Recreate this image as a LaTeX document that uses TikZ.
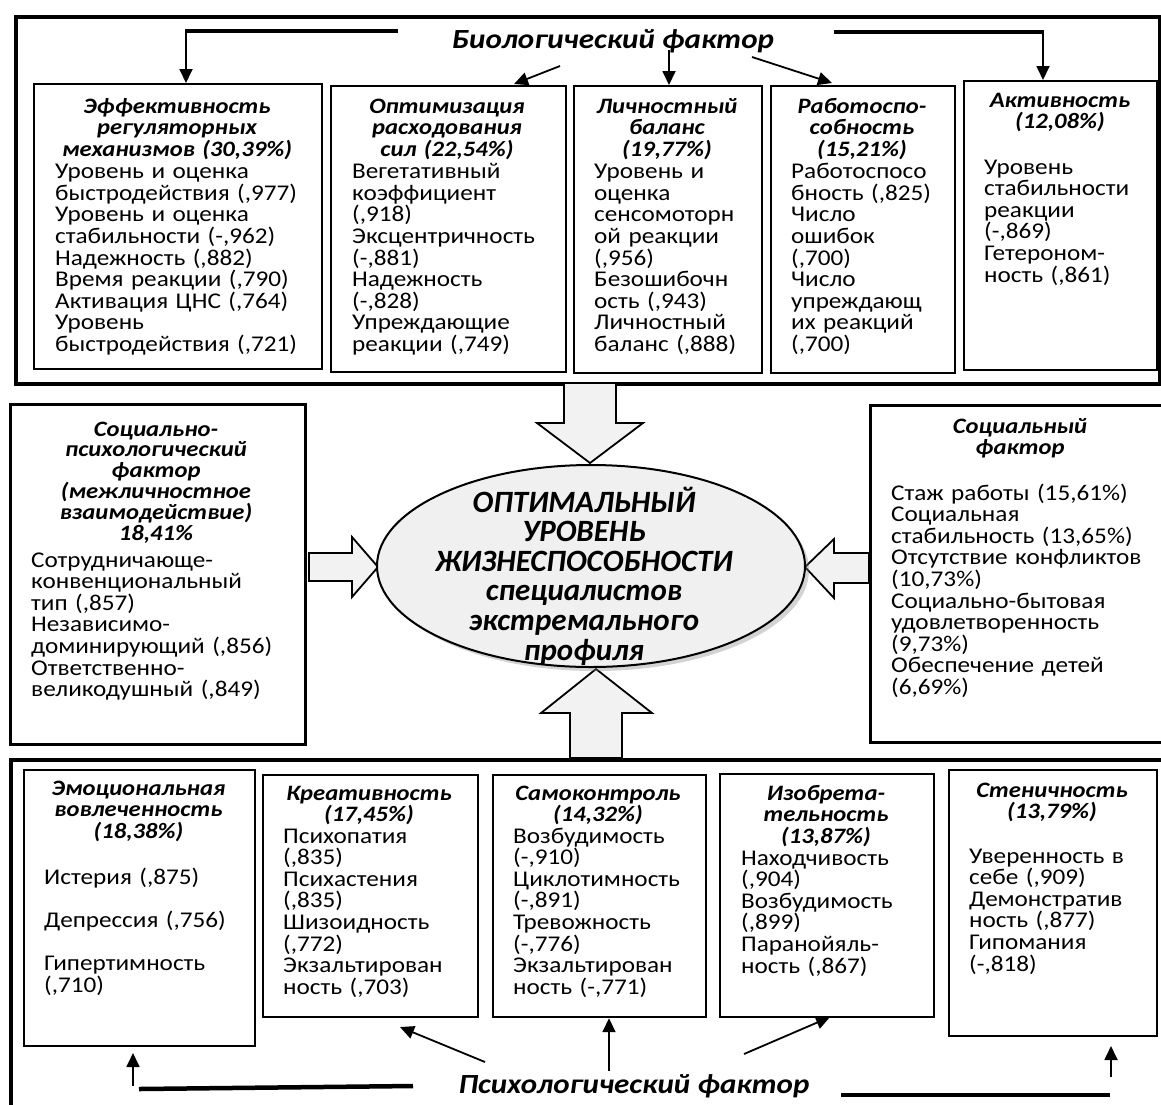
\documentclass[tikz,border=0pt]{standalone}
\usepackage{fontspec}
\setmainfont{Carlito}[FakeStretch=1.12]
\newfontfamily\ellfam{Carlito}
\usetikzlibrary{arrows.meta,shadows,shapes.geometric,calc}
\newcommand\bodyfont{\fontsize{22.5}{21.6}\selectfont}
\newcommand\hdfont{\fontsize{22}{21.6}\selectfont\bfseries\itshape}
\newcommand\hdtightfont{\fontsize{22}{20.8}\selectfont\bfseries\itshape}
\newcommand\bigttlfont{\fontsize{27.7}{30}\selectfont\bfseries\itshape}
\newcommand\ellfont{\ellfam\fontsize{31}{29.6}\selectfont\bfseries\itshape}
\tikzset{
  frame/.style={draw, line width=3.8pt, inner sep=0pt, anchor=north west},
  midbox/.style={draw, line width=3pt, inner sep=0pt, anchor=north west},
  box/.style={draw, line width=2.2pt, inner sep=0pt, anchor=north west},
  ttl/.style={anchor=base, align=center, text width=300pt, inner sep=0pt, font=\hdfont},
  bod/.style={anchor=base west, align=left, text width=330pt, inner sep=0pt, font=\bodyfont},
  conn/.style={line width=1.8pt, -{Triangle[length=14pt,width=13pt]}},
  bar/.style={line width=4.5pt},
  blk/.style={draw, line width=1.8pt, fill=gray!10, line join=miter},
}
\begin{document}
\begin{tikzpicture}[x=1pt,y=-1pt]
\useasboundingbox (0,0) rectangle (1161,1104);
% ---------- top frame ----------
\node[frame, minimum width=1144pt, minimum height=367pt] (topf) at (14,15) {};
\node[anchor=base, inner sep=0pt, font=\bigttlfont] (bio) at (613,48) {Биологический фактор};
% top boxes
\node[box, minimum width=288pt, minimum height=285pt] (b1) at (33,83) {};
\node[box, minimum width=235pt, minimum height=286pt] (b2) at (330,85) {};
\node[box, minimum width=188pt, minimum height=287pt] (b3) at (573,85) {};
\node[box, minimum width=184pt, minimum height=287pt] (b4) at (770,85) {};
\node[box, minimum width=193pt, minimum height=289pt] (b5) at (963,80) {};
% texts
\node[ttl] (b1h) at (177,113) {Эффективность\\регуляторных\\механизмов (30,39\%)};
\node[bod] (b1b) at (55,178.6) {Уровень и оценка\\быстродействия (,977)\\Уровень и оценка\\стабильности (-,962)\\Надежность (,882)\\Время реакции (,790)\\Активация ЦНС (,764)\\Уровень\\быстродействия (,721)};
\node[ttl] (b2h) at (447,113) {Оптимизация\\расходования\\сил (22,54\%)};
\node[bod] (b2b) at (352,178.6) {Вегетативный\\коэффициент\\(,918)\\Эксцентричность\\(-,881)\\Надежность\\(-,828)\\Упреждающие\\реакции (,749)};
\node[ttl] (b3h) at (667,113) {Личностный\\баланс\\(19,77\%)};
\node[bod] (b3b) at (594,178.6) {Уровень и\\оценка\\сенсомоторн\\ой реакции\\(,956)\\Безошибочн\\ость (,943)\\Личностный\\баланс (,888)};
\node[ttl] (b4h) at (862,113) {Работоспо-\\собность\\(15,21\%)};
\node[bod] (b4b) at (791,178.6) {Работоспосо\\бность (,825)\\Число\\ошибок\\(,700)\\Число\\упреждающ\\их реакций\\(,700)};
\node[ttl] (b5h) at (1060,107) {Активность\\(12,08\%)};
\node[bod] (b5b) at (984,174) {Уровень\\стабильности\\реакции\\(-,869)\\Гетероном-\\ность (,861)};
% top connectors
\coordinate (s1) at (398,31);
\coordinate (k1) at (186,31);
\draw[bar] (s1) -- ([xshift=-1pt]k1);
\draw[conn] (k1) -- (k1 |- b1.north);
\coordinate (s2) at (560,66);
\draw[conn] (s2) -- (514,84) coordinate (e2);
\coordinate (s3) at (669,50);
\draw[conn] (s3) -- (s3 |- b3.north);
\coordinate (s4) at (752,57);
\draw[conn] (s4) -- (832,83) coordinate (e4);
\coordinate (s5) at (834,32);
\coordinate (k5) at (1043,32);
\draw[bar] (s5) -- ([xshift=1pt]k5);
\draw[conn] (k5) -- (k5 |- b5.north);
% ---------- middle ----------
\node[midbox, minimum width=295pt, minimum height=340pt] (lb) at (9,403) {};
\node[ttl, font=\hdtightfont] (lbh) at (156,436) {Социально-\\психологический\\фактор\\(межличностное\\взаимодействие)\\18,41\%};
\node[bod] (lbb) at (31,567) {Сотрудничающе-\\конвенциональный\\тип (,857)\\Независимо-\\доминирующий (,856)\\Ответственно-\\великодушный (,849)};
\node[midbox, minimum width=310pt, minimum height=337pt] (rb) at (869,404) {};
\node[ttl] (rbh) at (1020,433) {Социальный\\фактор};
\node[bod] (rbb) at (891,500) {Стаж работы (15,61\%)\\Социальная\\стабильность (13,65\%)\\Отсутствие конфликтов\\(10,73\%)\\Социально-бытовая\\удовлетворенность\\(9,73\%)\\Обеспечение детей\\(6,69\%)};
% block arrows
\draw[blk] (564,383) -- (616,383) -- (616,423) -- (643,423) -- (590,463) -- (537,423) -- (564,423) -- cycle;
\draw[blk] (309,553) -- (352,553) -- (352,537) -- (378,567) -- (352,597) -- (352,581) -- (309,581) -- cycle;
\draw[blk] (869,553) -- (834,553) -- (834,539) -- (805,567) -- (834,598) -- (834,583) -- (869,583) -- cycle;
\draw[blk] (570,758) -- (570,713) -- (541,713) -- (596,669) -- (652,713) -- (622,713) -- (622,758) -- cycle;
% ellipse
\node[ellipse, draw, line width=2pt, fill=gray!12, minimum width=428pt, minimum height=202pt, inner sep=0pt,
      drop shadow={shadow xshift=4pt, shadow yshift=-4pt, opacity=0.35}] (ell) at (591,566) {};
\node[anchor=base, align=center, text width=420pt, inner sep=0pt, font=\ellfont] (ellt) at (584,512)
  {ОПТИМАЛЬНЫЙ\\УРОВЕНЬ\\ЖИЗНЕСПОСОБНОСТИ\\специалистов\\экстремального\\профиля};
% ---------- bottom frame ----------
\node[frame, minimum width=1170pt, minimum height=360pt] (botf) at (9,758) {};
\node[box, minimum width=231pt, minimum height=276pt] (p1) at (23,769) {};
\node[box, minimum width=215pt, minimum height=242pt] (p2) at (262,774) {};
\node[box, minimum width=213pt, minimum height=242pt] (p3) at (492,774) {};
\node[box, minimum width=214pt, minimum height=243pt] (p4) at (719,773) {};
\node[box, minimum width=208pt, minimum height=266pt] (p5) at (948,769) {};
\node[ttl] (p1h) at (138.5,795) {Эмоциональная\\вовлеченность\\(18,38\%)};
\node[bod] (p1b) at (44,884) {Истерия (,875)\\[21.6pt]Депрессия (,756)\\[21.6pt]Гипертимность\\(,710)};
\node[ttl] (p2h) at (369,800) {Креативность\\(17,45\%)};
\node[bod] (p2b) at (283,843) {Психопатия\\(,835)\\Психастения\\(,835)\\Шизоидность\\(,772)\\Экзальтирован\\ность (,703)};
\node[ttl] (p3h) at (598,800) {Самоконтроль\\(14,32\%)};
\node[bod] (p3b) at (513,843) {Возбудимость\\(-,910)\\Циклотимность\\(-,891)\\Тревожность\\(-,776)\\Экзальтирован\\ность (-,771)};
\node[ttl] (p4h) at (826,800) {Изобрета-\\тельность\\(13,87\%)};
\node[bod] (p4b) at (741,865) {Находчивость\\(,904)\\Возбудимость\\(,899)\\Паранойяль-\\ность (,867)};
\node[ttl] (p5h) at (1052,797) {Стеничность\\(13,79\%)};
\node[bod] (p5b) at (969,863) {Уверенность в\\себе (,909)\\Демонстратив\\ность (,877)\\Гипомания\\(-,818)};
\node[anchor=base, inner sep=0pt, font=\bigttlfont] (psy) at (634,1093) {Психологический фактор};
% bottom connectors
\coordinate (q1) at (133,1086);
\draw[conn] (q1) -- (133,1053) coordinate (r1);
\coordinate (h1a) at (413,1086);
\coordinate (h1b) at (139,1089);
\draw[bar] (h1a) -- (h1b);
\coordinate (q2) at (485,1062);
\draw[conn] (q2) -- (400,1027) coordinate (r2);
\coordinate (q3) at (609,1071);
\draw[conn] (q3) -- (q3 |- p3.south);
\coordinate (q4) at (744,1054);
\draw[conn] (q4) -- (830,1017) coordinate (r4);
\coordinate (q5) at (1111,1077);
\draw[conn] (q5) -- (1111,1046) coordinate (r5);
\coordinate (h5a) at (841,1095);
\coordinate (h5b) at (1110,1095);
\draw[bar] (h5a) -- (h5b);
\end{tikzpicture}
\end{document}
